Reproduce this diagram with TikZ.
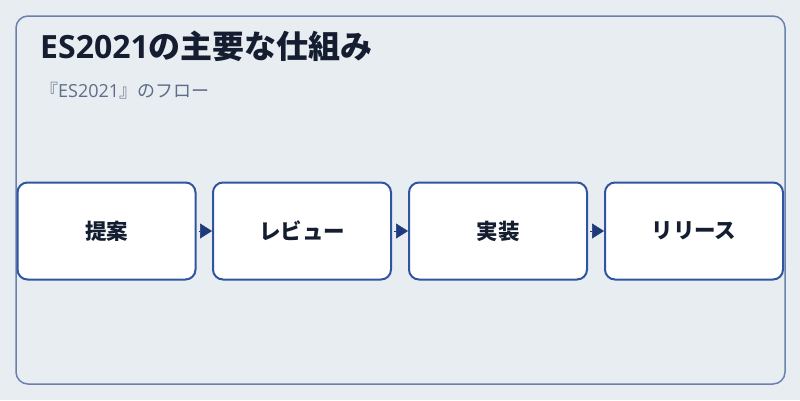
\documentclass[tikz,border=0pt]{standalone}
\usepackage{fontspec}
\setmainfont{Open Sans}
\newfontfamily\jp{Noto Sans CJK JP}
\usetikzlibrary{arrows.meta}
\definecolor{bg}{HTML}{E8EDF2}
\definecolor{frame}{HTML}{6A80B0}
\definecolor{boxline}{HTML}{2F55A0}
\definecolor{arrowc}{HTML}{1E3A7A}
\definecolor{titlec}{HTML}{141E30}
\definecolor{subc}{HTML}{5E6E88}
\tikzset{
  stepbox/.style={draw=boxline, line width=2pt, fill=white, rounded corners=10pt,
    minimum width=178pt, minimum height=97pt, inner sep=0pt,
    font=\jp\fontsize{21.5}{24}\selectfont\bfseries, text=titlec},
  flow/.style={draw=arrowc, line width=0.5pt, shorten <=2pt,
    -{Triangle[length=12pt,width=15pt]}, arrowc}
}
\begin{document}
\begin{tikzpicture}[x=1pt,y=-1pt]
\useasboundingbox (0,0) rectangle (800,400);
\fill[bg] (0,0) rectangle (800,400);
\draw[frame, line width=1.5pt, rounded corners=12pt] (16,16) rectangle (785,384);
\node[anchor=base west, inner sep=0pt, text=titlec, font=\fontsize{32}{36}\selectfont\bfseries] (title) at (40,58) {ES2021{\jp の主要な仕組み}};
\node[anchor=base west, inner sep=0pt, text=subc, font=\fontsize{18}{21}\selectfont] (sub) at (40,97) {{\jp 『}ES2021{\jp 』のフロー}};
\node[stepbox] (a) at (106.5,231) {提案};
\node[stepbox] (b) at (302,231) {レビュー};
\node[stepbox] (c) at (498,231) {実装};
\node[stepbox] (d) at (694,231) {リリース};
\draw[flow] (a.east) -- (b.west);
\draw[flow] (b.east) -- (c.west);
\draw[flow] (c.east) -- (d.west);
\end{tikzpicture}
\end{document}
